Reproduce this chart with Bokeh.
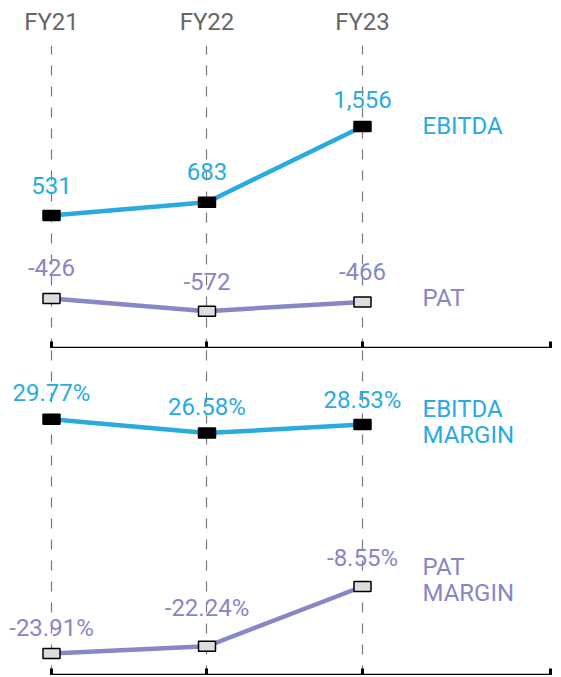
from bokeh.plotting import figure
from bokeh.models import Range1d, FixedTicker, LinearAxis, Grid
from bokeh.layouts import column
from bokeh.embed import file_html
from bokeh.resources import INLINE
from bokeh.core.properties import value

# ---- data ----
years = ["FY21", "FY22", "FY23"]
ebitda = [531, 683, 1556]
pat = [-426, -572, -466]
ebitda_margin = [29.77, 26.58, 28.53]
pat_margin = [-23.91, -22.24, -8.55]

# ---- style ----
BLUE = "#29ABE2"
PURPLE = "#8886C4"
GRID = "#7a7a7a"
FONT = "Roboto"
FS = "24px"
X0, X1 = -0.32797, 3.2283
AXIS_END = 3.21
FRAME_W = 553

x = list(range(len(years)))


def base_fig(frame_height, y0, y1, **kw):
    p = figure(frame_width=FRAME_W, frame_height=frame_height,
               x_range=Range1d(X0, X1), y_range=Range1d(y0, y1),
               x_axis_location=None, y_axis_location=None,
               output_backend="svg", toolbar_location=None,
               min_border=0, outline_line_color=None, **kw)
    for g in p.grid:
        g.visible = False
    p.add_layout(Grid(dimension=0, ticker=FixedTicker(ticks=x),
                      grid_line_color=GRID, grid_line_width=1.2,
                      grid_line_dash="10 11"))
    ax = LinearAxis(ticker=FixedTicker(ticks=x + [AXIS_END]),
                    bounds=(0, AXIS_END),
                    axis_line_color="black", axis_line_width=3.5,
                    major_tick_in=7, major_tick_out=0,
                    major_tick_line_color="black", major_tick_line_width=3,
                    minor_tick_line_color=None,
                    major_label_text_color=None,
                    major_label_text_font_size="1px",
                    major_label_standoff=0)
    p.add_layout(ax, "below")
    return p


def series(p, vals, labels, color, fill, name, name_dy, label_dy):
    p.line(x, vals, line_color=color, line_width=4.5)
    p.rect(x, vals, width=17, height=10, width_units="screen",
           height_units="screen", fill_color=fill, line_color="black",
           line_width=1.5)
    p.text(x, vals, text=labels, text_font=value(FONT), text_font_size=FS,
           text_color=color, text_align="center", text_baseline="alphabetic",
           y_offset=label_dy)
    p.text([x[-1]], [vals[-1]], text=[name], text_font=value(FONT),
           text_font_size=FS, text_color=color, text_align="left",
           text_baseline="middle", x_offset=60, y_offset=name_dy,
           text_line_height=0.93)


# ---- top panel ----
top = base_fig(303, -1002.3, 2488.5, min_border_top=45)
above = LinearAxis(ticker=FixedTicker(ticks=x),
                   major_label_overrides={i: y for i, y in zip(x, years)},
                   axis_line_color=None, major_tick_line_color=None,
                   minor_tick_line_color=None,
                   major_label_text_font=FONT,
                   major_label_text_font_size=FS,
                   major_label_text_color="#666666",
                   major_label_standoff=4)
top.add_layout(above, "above")

series(top, ebitda, [f"{v:,}" for v in ebitda], BLUE, "black",
       "EBITDA", 0, [-30, -31, -27])
series(top, pat, [f"{v:,}" for v in pat], PURPLE, "#dddddd",
       "PAT", -4, [-31, -30, -30])

# ---- bottom panel ----
bot = base_fig(327, -28.94, 45.96)
series(bot, ebitda_margin, [f"{v:.2f}%" for v in ebitda_margin], BLUE,
       "black", "EBITDA\nMARGIN", -3, [-26, -26, -25])
series(bot, pat_margin, [f"{v:.2f}%" for v in pat_margin], PURPLE,
       "#dddddd", "PAT\nMARGIN", -6, [-26, -38, -28])

layout = column(top, bot, spacing=0)
open("out.html", "w").write(file_html(layout, INLINE))
